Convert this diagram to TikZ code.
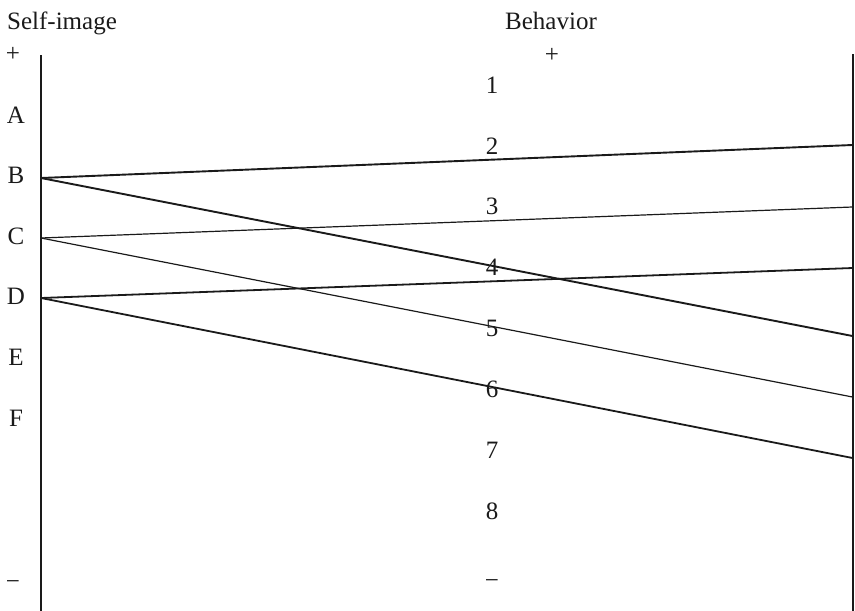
\documentclass[tikz,border=0pt]{standalone}
\usepackage{fontspec}
\setmainfont{Liberation Serif}
\definecolor{ScaleInk}{HTML}{1A1A1A}

\begin{document}
\begin{tikzpicture}[x=1pt,y=-1pt,
    lbl/.style={font=\fontsize{25}{30}\selectfont,text=ScaleInk,inner sep=0pt},
    axis/.style={ScaleInk,line width=2pt},
    link/.style={ScaleInk,line width=#1}]
  \useasboundingbox (0,0) rectangle (855,611);
  % headings
  \node[lbl,anchor=base west] (selfimg) at (7,29) {Self-image};
  \node[lbl,anchor=base west] (behav) at (505,29) {Behavior};
  \node[lbl] (splus) at (13,54) {+};
  \node[lbl] (bplus) at (552,55) {+};
  \node[lbl] (sminus) at (13,585) {−};
  \node[lbl] (bminus) at (492,584) {−};
  % self-image scale
  \foreach \t [count=\k] in {A,B,C,D,E,F}
    \node[lbl] (s\t) at (16,{115+60.6*(\k-1)}) {\t};
  % behavior scale
  \foreach \k in {1,...,8}
    \node[lbl] (b\k) at (492,{85+60.9*(\k-1)}) {\k};
  % the two vertical axes
  \coordinate (ltop) at (41,55);
  \coordinate (lbot) at (41,611);
  \coordinate (rtop) at (852.5,54);
  \coordinate (rbot) at (852.5,611);
  \draw[axis] (ltop) -- (lbot);
  \draw[axis] (rtop) -- (rbot);
  % start points on the left axis
  \coordinate (pB) at (41,178);
  \coordinate (pC) at (41,238);
  \coordinate (pD) at (41,298);
  % end points on the right axis
  \coordinate (qB1) at (852.5,145);
  \coordinate (qC1) at (852.5,207);
  \coordinate (qD1) at (852.5,268);
  \coordinate (qB2) at (852.5,336);
  \coordinate (qC2) at (852.5,397);
  \coordinate (qD2) at (852.5,458);
  \draw[link=1.9pt] (pB) -- (qB1);
  \draw[link=1.9pt] (pB) -- (qB2);
  \draw[link=1.2pt] (pC) -- (qC1);
  \draw[link=1.2pt] (pC) -- (qC2);
  \draw[link=1.8pt] (pD) -- (qD1);
  \draw[link=1.8pt] (pD) -- (qD2);
\end{tikzpicture}
\end{document}
